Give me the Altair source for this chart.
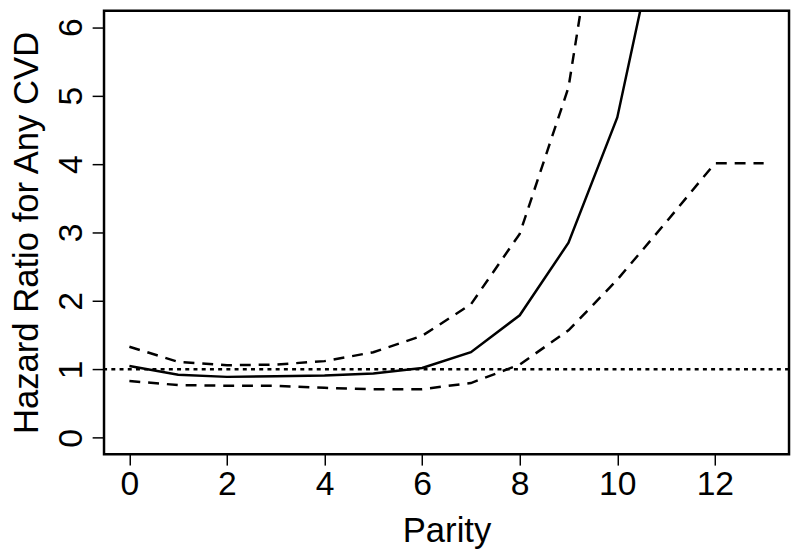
import altair as alt
import pandas as pd

parity = list(range(14))
hr_est = [1.05, 0.92, 0.89, 0.90, 0.91, 0.94, 1.02, 1.25, 1.79, 2.85, 4.68, 8.0]
hr_upper = [1.33, 1.11, 1.06, 1.07, 1.12, 1.25, 1.49, 1.95, 2.98, 5.12, 9.6]
hr_lower = [0.83, 0.77, 0.76, 0.76, 0.73, 0.71, 0.71, 0.80, 1.07, 1.57, 2.31, 3.15, 4.01, 4.01]
x_ticks = [0, 2, 4, 6, 8, 10, 12]
y_ticks = [0, 1, 2, 3, 4, 5, 6]

FONT = "Liberation Sans"

df_est = pd.DataFrame({"parity": parity[:len(hr_est)], "hr": hr_est})
df_up = pd.DataFrame({"parity": parity[:len(hr_upper)], "hr": hr_upper})
df_lo = pd.DataFrame({"parity": parity[:len(hr_lower)], "hr": hr_lower})

xscale = alt.Scale(domain=[-0.52, 13.52], nice=False, zero=False)
yscale = alt.Scale(domain=[-0.24, 6.24], nice=False, zero=False)

xaxis = alt.Axis(values=x_ticks, format="d", title="Parity", grid=False, domain=False,
                 tickColor="black", tickWidth=1.5, tickSize=11,
                 labelFont=FONT, labelFontSize=34, labelColor="black", labelPadding=3,
                 titleFont=FONT, titleFontSize=35, titleFontWeight="normal",
                 titleColor="black", titlePadding=12, labelFlush=False)
yaxis = alt.Axis(values=y_ticks, format="d", title="Hazard Ratio for Any CVD", grid=False, domain=False,
                 tickColor="black", tickWidth=1.5, tickSize=12,
                 labelFont=FONT, labelFontSize=34, labelColor="black", labelPadding=4,
                 labelAngle=270, labelAlign="center", labelBaseline="bottom",
                 titleFont=FONT, titleFontSize=35, titleFontWeight="normal",
                 titleColor="black", titlePadding=10, labelFlush=False)

est = alt.Chart(df_est).mark_line(color="black", strokeWidth=2.5, clip=True).encode(
    x=alt.X("parity:Q", scale=xscale, axis=xaxis),
    y=alt.Y("hr:Q", scale=yscale, axis=yaxis),
)
up = alt.Chart(df_up).mark_line(color="black", strokeWidth=2.5, strokeDash=[11, 8], clip=True).encode(
    x=alt.X("parity:Q", scale=xscale),
    y=alt.Y("hr:Q", scale=yscale),
)
lo = alt.Chart(df_lo).mark_line(color="black", strokeWidth=2.5, strokeDash=[11, 8], clip=True).encode(
    x=alt.X("parity:Q", scale=xscale),
    y=alt.Y("hr:Q", scale=yscale),
)
ref = alt.Chart(pd.DataFrame({"hr": [1.0]})).mark_rule(
    color="black", strokeWidth=2.5, strokeDash=[4, 4.3]).encode(
    y=alt.Y("hr:Q", scale=yscale),
)

chart = alt.layer(ref, est, up, lo).properties(
    width=692, height=448,
    autosize=alt.AutoSizeParams(type="none"),
    padding={"left": 97, "top": 0, "right": 3, "bottom": 93},
).configure(
    background="white",
    view=alt.ViewConfig(stroke="black", strokeWidth=2.5),
)

chart.save("out.html", embed_options={"renderer": "svg", "actions": False})
